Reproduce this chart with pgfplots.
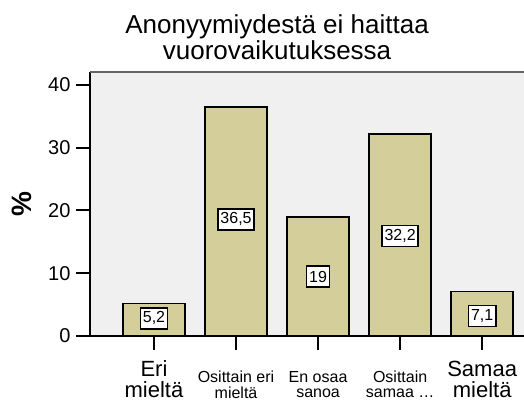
\documentclass[border=0pt]{standalone}
\usepackage{pgfplots}
\pgfplotsset{compat=1.18}
\usepackage{fontspec}
\setmainfont{Liberation Sans}
\definecolor{khaki}{RGB}{211,206,154}
\definecolor{bggray}{RGB}{240,240,240}
\definecolor{topgray}{RGB}{100,100,100}
\newcommand{\biglab}[2]{{\fontsize{22}{19}\selectfont\begin{tabular}[t]{@{}c@{}}#1\\#2\end{tabular}}}
\newcommand{\smalllab}[2]{\raisebox{-6pt}{\fontsize{16}{15}\selectfont\begin{tabular}[t]{@{}c@{}}#1\\#2\end{tabular}}}
\begin{document}
\begin{tikzpicture}
\useasboundingbox (-90pt,-66pt) rectangle (434pt,336pt);
\begin{axis}[
  scale only axis, width=434pt, height=264pt,
  xmin=-0.78, xmax=4.51, ymin=0, ymax=42.07,
  axis x line=bottom, axis y line=left,
  axis line style={-, line width=2.2pt, black},
  axis background/.style={fill=bggray},
  xtick={0,1,2,3,4},
  xticklabels={
    {\biglab{Eri}{mieltä}},
    {\smalllab{Osittain eri}{mieltä}},
    {\smalllab{En osaa}{sanoa}},
    {\smalllab{Osittain}{samaa \dots}},
    {\biglab{Samaa}{mieltä}}},
  xticklabel style={anchor=base, yshift=-26pt, inner sep=0pt},
  ytick={0,10,20,30,40},
  yticklabel style={font=\fontsize{20}{20}\selectfont, xshift=-2pt},
  /pgf/number format/assume math mode=true,
  tick align=outside, major tick length=14pt,
  tick style={line width=2pt, black},
  ylabel={\%},
  ylabel style={font=\fontsize{28}{28}\selectfont\bfseries, at={(rel axis cs:0,0.5)}, anchor=center, yshift=68pt},
  title={Anonyymiydestä ei haittaa\\vuorovaikutuksessa},
  title style={align=center, font=\fontsize{26}{26}\selectfont, at={(rel axis cs:0.431,1)}, anchor=south, inner sep=0pt, yshift=6pt},
  clip=false,
]
\addplot[ybar, bar width=62pt, fill=khaki, draw=black, line width=1.5pt]
  coordinates {(0,5.2) (1,36.5) (2,19) (3,32.2) (4,7.1)};
\addplot[draw=none, mark=none, nodes near coords, point meta=explicit symbolic,
  nodes near coords style={anchor=center, draw=black, fill=white, line width=1.5pt,
    inner xsep=2.5pt, inner ysep=0pt, minimum height=21pt, font=\fontsize{16}{16}\selectfont}]
  table[meta=label] {
x y label
0 2.8 5,2
1 18.6 36,5
2 9.45 19
3 15.9 32,2
4 3.2 7,1
};
\draw[topgray, line width=1.2pt] (rel axis cs:0,1) -- (rel axis cs:1,1);
\end{axis}
\end{tikzpicture}
\end{document}
